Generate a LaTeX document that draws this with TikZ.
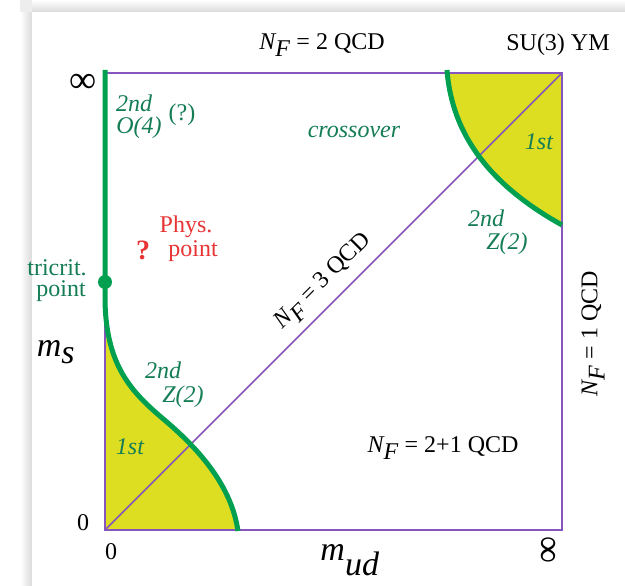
\documentclass[tikz,border=0pt]{standalone}
\usepackage{fontspec}
\setmainfont{Liberation Serif}
\usetikzlibrary{positioning}

\definecolor{edgepurple}{RGB}{135,85,190}
\definecolor{linegreen}{RGB}{0,160,80}
\definecolor{textgreen}{RGB}{20,125,85}
\definecolor{fillyellow}{RGB}{221,221,34}
\definecolor{physred}{RGB}{232,52,52}

\newcommand{\NF}{$\textit{N}_{\textit{F}}$}

\begin{document}
\begin{tikzpicture}[x=1pt, y=-1pt,
    lbl/.style={font=\fontsize{24}{26}\selectfont, inner sep=0pt},
    glbl/.style={font=\fontsize{24}{26}\selectfont\itshape, textgreen, inner sep=0pt},
    bigsym/.style={font=\fontsize{34}{36}\selectfont, inner sep=0pt},
    infsym/.style={font=\fontsize{38}{40}\selectfont, inner sep=0pt},
    edgeline/.style={edgepurple, line width=1.5pt},
    transline/.style={linegreen, line width=5pt}]
    \useasboundingbox (0,0) rectangle (625,586);

    % card with shadow
    \shade[left color=white, right color=black!14] (20,12) rectangle (32,586);
    \shade[top color=white, bottom color=black!14] (32,0) rectangle (625,12);
    \fill[black!7] (20,0) rectangle (32,12);
    \fill[white] (32,12) rectangle (625,586);

    % corners of the mass plane
    \coordinate (O) at (105,530);
    \coordinate (TL) at (105,73);
    \coordinate (TR) at (562,73);
    \coordinate (BR) at (562,530);

    % first order regions
    \fill[fillyellow] (448,73) .. controls (452,135) and (490,185) .. (562,225) -- (TR) -- cycle;
    \fill[fillyellow] (105,300) .. controls (106,370) and (135,395) .. (168,423)
        .. controls (205,455) and (232,490) .. (238,530) -- (O) -- cycle;

    % frame and diagonal
    \draw[edgeline] (TL) rectangle (BR);
    \draw[edgeline] (O) -- (TR);

    % second order lines
    \draw[transline] (105,70) -- (105,300) .. controls (106,370) and (135,395) .. (168,423)
        .. controls (205,455) and (232,490) .. (238,531);
    \draw[transline] (447,70) .. controls (452,135) and (490,185) .. (562,225);
    \node[circle, fill=linegreen, minimum size=14pt, inner sep=0pt] (tricrit) at (105,282) {};

    % top labels
    \node[lbl] (nf2) at (322,45) {\NF{} = 2 QCD};
    \node[lbl] (ym) at (558,45) {SU(3) YM};

    % axes
    \node[infsym] (infs) at (83,83) {∞};
    \node[infsym, rotate=90] (infud) at (550,550) {∞};
    \node[lbl] (zeros) at (83,523) {0};
    \node[lbl] (zeroud) at (111,552) {0};
    \node[bigsym] (ms) at (56,352) {$\textit{m}_{\textit{s}}$};
    \node[bigsym] (mud) at (350,560) {$\textit{m}_{\textit{ud}}$};

    % left edge
    \node[glbl] (o4a) at (134,103) {2nd};
    \node[glbl] (o4b) at (139,128) {O(4)};
    \node[lbl, textgreen] (o4q) at (182,115) {(?)};
    \node[lbl, textgreen] (tca) at (57,268) {tricrit.};
    \node[lbl, textgreen] (tcb) at (61,291) {point};

    % physical point
    \node[lbl, physred] (physa) at (186,227) {Phys.};
    \node[lbl, physred] (physb) at (193,251) {point};
    \node[lbl, physred, font=\fontsize{28}{30}\selectfont\bfseries] (physq) at (143,250) {?};

    % region labels
    \node[glbl] (cross) at (354,132) {crossover};
    \node[glbl] (zla) at (163,370) {2nd};
    \node[glbl] (zlb) at (183,397) {Z(2)};
    \node[glbl] (fol) at (130,447) {1st};
    \node[glbl] (fou) at (539,142) {1st};
    \node[glbl] (zua) at (486,218) {2nd};
    \node[glbl] (zub) at (507,244) {Z(2)};

    % flavour lines
    \node[lbl, rotate=45] (nf3) at (324,282) {\NF{} = 3 QCD};
    \node[lbl, rotate=90] (nf1) at (593,334) {\NF{} = 1 QCD};
    \node[lbl] (nf21) at (443,448) {\NF{} = 2+1 QCD};
\end{tikzpicture}
\end{document}
